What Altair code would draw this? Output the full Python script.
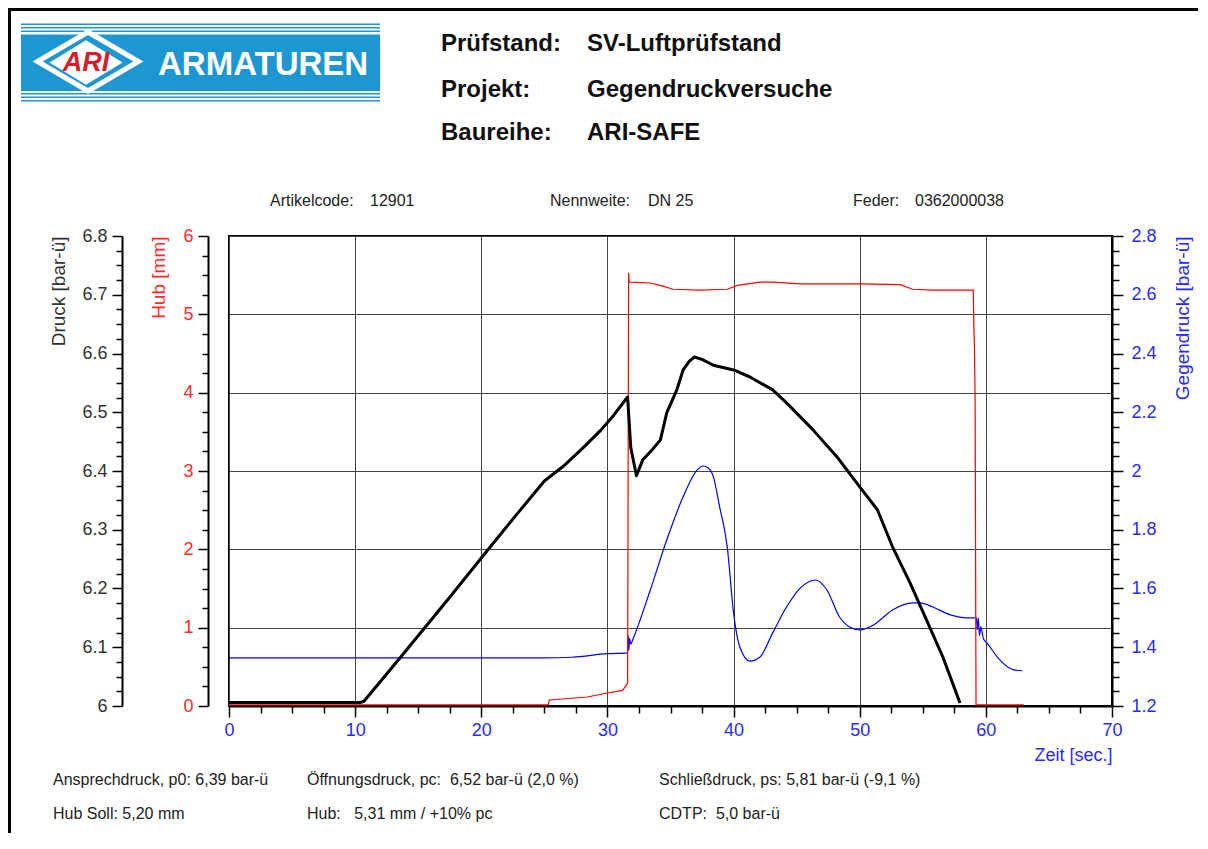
import altair as alt
import pandas as pd

FONT = "Liberation Sans"
RED = "#ff0000"
BLUE = "#0000ff"
RED_TXT = "#ff2a2a"
BLUE_TXT = "#2a2aff"
DARK = "#333333"
NB = "\u00a0"

# ---------------- data ----------------
druck_t = [0, 10.4, 10.7, 13.6, 17.5, 20, 22.5, 25, 26.5, 28, 29.5, 30.5, 31.6, 31.85,
           32.3, 32.8, 33.5, 34.2, 34.7, 35.5, 36.0, 36.5, 36.9, 37.5, 38.4, 40.0, 41.3,
           43.1, 44.2, 46.3, 48.2, 50.0, 51.4, 52.6, 54.0, 55.3, 56.6, 57.95]
druck_v = [6.006, 6.006, 6.008, 6.083, 6.185, 6.252, 6.318, 6.383, 6.408, 6.438, 6.470,
           6.495, 6.526, 6.44, 6.392, 6.419, 6.435, 6.453, 6.499, 6.538, 6.572, 6.587,
           6.594, 6.590, 6.580, 6.572, 6.560, 6.538, 6.516, 6.470, 6.424, 6.373, 6.334,
           6.271, 6.209, 6.146, 6.083, 6.005]

hub_t = [0, 25.3, 25.4, 28.4, 30.0, 31.2, 31.6, 31.68, 31.72, 31.8, 33.4, 34.4, 35.2,
         37.3, 39.5, 40.3, 42.1, 43.1, 45.3, 50.0, 53.2, 54.2, 55.8, 59.0, 59.05, 59.1,
         59.15, 59.22, 63.0]
hub_v = [0.015, 0.015, 0.077, 0.115, 0.166, 0.20, 0.29, 5.53, 5.42, 5.41, 5.40, 5.36,
         5.32, 5.31, 5.32, 5.37, 5.41, 5.41, 5.39, 5.39, 5.38, 5.32, 5.31, 5.31, 4.84,
         4.55, 3.87, 0.015, 0.015]

gd_t = [0, 25, 27.2, 30.0, 31.6, 31.65, 31.7, 31.75, 31.85, 32.0, 33.4, 34.7, 36.0,
        37.1, 37.6, 38.0, 38.4, 38.9, 39.5, 40.0, 40.5, 41.3, 42.1, 43.1, 44.2, 45.3,
        46.5, 47.4, 48.4, 49.2, 50.0, 51.1, 52.6, 54.2, 54.8, 55.8, 57.2, 58.5, 59.25,
        59.32, 59.4, 59.5, 59.6, 59.8, 60.1, 61.1, 62.2, 62.9]
gd_v = [1.364, 1.364, 1.366, 1.378, 1.381, 1.44, 1.39, 1.43, 1.41, 1.425, 1.595, 1.765,
        1.912, 2.003, 2.017, 2.01, 1.98, 1.877, 1.741, 1.517, 1.40, 1.353, 1.367, 1.449,
        1.537, 1.602, 1.629, 1.595, 1.503, 1.469, 1.459, 1.476, 1.527, 1.551, 1.551,
        1.537, 1.510, 1.50, 1.50, 1.46, 1.50, 1.44, 1.47, 1.43, 1.414, 1.357, 1.323, 1.32]

x_ticks = [i * 2.5 for i in range(29)]
druck_ticks = [round(6 + i * 0.025, 3) for i in range(33)]
hub_ticks = [i * 0.25 for i in range(25)]
gd_ticks = [round(1.2 + i * 0.05, 2) for i in range(33)]

header_keys = ["Prüfstand:", "Projekt:", "Baureihe:"]
header_vals = ["SV-Luftprüfstand", "Gegendruckversuche", "ARI-SAFE"]
info_texts = ["Artikelcode:", "12901", "Nennweite:", "DN 25", "Feder:", "0362000038"]
foot_row1 = ["Ansprechdruck, p0: 6,39 bar-ü", "Öffnungsdruck, pc:" + NB + " 6,52 bar-ü (2,0 %)",
             "Schließdruck, ps: 5,81 bar-ü (-9,1 %)"]
foot_row2 = ["Hub Soll: 5,20 mm", "Hub:" + NB + NB + NB + "5,31 mm / +10% pc",
             "CDTP:" + NB + " 5,0 bar-ü"]

# ---------------- layout ----------------
PL, PT = 229, 236          # page position of plot origin
W, H = 883, 470
PAD = {"left": PL - 8, "top": PT - 8, "right": 86, "bottom": 127}


def px(x):
    return x - PL


def py(y):
    return y - PT


ONE = alt.Data(values=[{"k": 1}])


def txt(s, x, y, size=16, weight="normal", color="#222222", align="left", style="normal"):
    return alt.Chart(ONE).mark_text(
        text=s, align=align, baseline="middle", fontSize=size, fontWeight=weight,
        color=color, font=FONT, fontStyle=style
    ).encode(x=alt.value(px(x)), y=alt.value(py(y)))


def rect(x1, x2, y1, y2, color):
    return alt.Chart(ONE).mark_rect(color=color, opacity=1).encode(
        x=alt.value(px(x1)), x2=alt.value(px(x2)), y=alt.value(py(y1)), y2=alt.value(py(y2)))


LAB = 18
TIT = 19

# ---------------- axes ----------------
x_major = "datum.value % 10 == 0"
x_axis = alt.Axis(
    values=x_ticks, title="Zeit [sec.]", titleColor=BLUE_TXT, titleFont=FONT, titleFontSize=18,
    titleFontWeight="normal", titleX=W, titleY=49, titleAlign="right", titleBaseline="middle",
    titleAngle=0,
    labelExpr=f"{x_major} ? format(datum.value, 'd') : ''", labelColor=BLUE_TXT,
    labelFont=FONT, labelFontSize=LAB, labelPadding=4, labelOverlap=False, labelFlush=False,
    tickSize={"condition": {"test": x_major, "value": 11}, "value": 7},
    tickColor="black", tickWidth=1.5, domainColor="black", domainWidth=2,
    grid=True, gridColor="#444444", gridWidth=1,
    gridOpacity={"condition": {"test": x_major, "value": 1}, "value": 0},
)

d_major = "abs(datum.value*10 - round(datum.value*10)) < 0.001"
druck_axis = alt.Axis(
    orient="left", offset=107, values=druck_ticks, title="Druck [bar-ü]", titleColor=DARK,
    titleFont=FONT, titleFontSize=TIT, titleFontWeight="normal", titleAngle=270,
    titleAlign="right", titleBaseline="middle", titleX=-64, titleY=0,
    labelExpr=f"{d_major} ? format(datum.value, '.1~f') : ''", labelColor=DARK,
    labelFont=FONT, labelFontSize=LAB, labelPadding=5, labelOverlap=False, labelFlush=False,
    tickSize={"condition": {"test": d_major, "value": 10}, "value": 6},
    tickColor="black", tickWidth=1.5, domainColor="black", domainWidth=2, grid=False,
)

h_major = "abs(datum.value - round(datum.value)) < 0.001"
hub_axis = alt.Axis(
    orient="left", offset=21, values=hub_ticks, title="Hub [mm]", titleColor=RED_TXT,
    titleFont=FONT, titleFontSize=TIT, titleFontWeight="normal", titleAngle=270,
    titleAlign="right", titleBaseline="middle", titleX=-50, titleY=0,
    labelExpr=f"{h_major} ? format(datum.value, 'd') : ''", labelColor=RED_TXT,
    labelFont=FONT, labelFontSize=LAB, labelPadding=5, labelOverlap=False, labelFlush=False,
    tickSize={"condition": {"test": h_major, "value": 10}, "value": 6},
    tickColor="black", tickWidth=1.5, domainColor="black", domainWidth=2,
    grid=True, gridColor="#444444", gridWidth=1,
    gridOpacity={"condition": {"test": h_major, "value": 1}, "value": 0},
)

g_major = "abs(datum.value*5 - round(datum.value*5)) < 0.001"
gd_axis = alt.Axis(
    orient="right", offset=0, values=gd_ticks, title="Gegendruck [bar-ü]", titleColor=BLUE_TXT,
    titleFont=FONT, titleFontSize=TIT, titleFontWeight="normal", titleAngle=270,
    titleAlign="right", titleBaseline="middle", titleX=70, titleY=0,
    labelExpr=f"{g_major} ? format(datum.value, '.1~f') : ''", labelColor=BLUE_TXT,
    labelFont=FONT, labelFontSize=LAB, labelPadding=8, labelOverlap=False, labelFlush=False,
    tickSize={"condition": {"test": g_major, "value": 11}, "value": 7},
    tickColor="black", tickWidth=1.5, domainColor="black", domainWidth=2, grid=False,
)

xs = alt.Scale(domain=[0, 70], nice=False, zero=False)
X = alt.X("t:Q", scale=xs, axis=x_axis)

gd_line = alt.Chart(pd.DataFrame({"t": gd_t, "v": gd_v})).mark_line(
    color=BLUE, strokeWidth=1.2, interpolate="monotone").encode(
    x=X, y=alt.Y("v:Q", scale=alt.Scale(domain=[1.2, 2.8], nice=False, zero=False), axis=gd_axis))

hub_line = alt.Chart(pd.DataFrame({"t": hub_t, "v": hub_v})).mark_line(
    color=RED, strokeWidth=1.2).encode(
    x=X, y=alt.Y("v:Q", scale=alt.Scale(domain=[0, 6], nice=False, zero=False), axis=hub_axis))

druck_line = alt.Chart(pd.DataFrame({"t": druck_t, "v": druck_v})).mark_line(
    color="black", strokeWidth=3, strokeJoin="round").encode(
    x=X, y=alt.Y("v:Q", scale=alt.Scale(domain=[6, 6.8], nice=False, zero=False), axis=druck_axis))

# ---------------- decorations ----------------
LOGO = "#1e96d2"
logo = [
    rect(21, 380, 23.5, 25, LOGO), rect(21, 380, 27, 28.5, LOGO), rect(21, 380, 30.5, 32, LOGO),
    rect(21, 380, 34.5, 91, LOGO),
    rect(21, 380, 93, 94.5, LOGO), rect(21, 380, 96.5, 98, LOGO), rect(21, 380, 100, 101.5, LOGO),
    alt.Chart(ONE).mark_point(shape="M-1.71,0L0,-1L1.71,0L0,1Z", size=3481, filled=False,
                              stroke="white", strokeWidth=5, opacity=1).encode(
        x=alt.value(px(88)), y=alt.value(py(61.5))),
    alt.Chart(ONE).mark_point(shape="M-1.65,0L0,-1L1.65,0L0,1Z", size=1764, filled=True,
                              fill="white", stroke="white", opacity=1).encode(
        x=alt.value(px(86)), y=alt.value(py(62.5))),
    txt("ARI", 86, 63, size=27, weight="bold", color="#d4202a", align="center", style="italic"),
    txt("ARMATUREN", 158, 65, size=33, weight="bold", color="white"),
]

frame = [rect(8, 11, 8, 833, "black"), rect(8, 1198, 8, 11, "black")]

texts = []
for i, (k, v) in enumerate(zip(header_keys, header_vals)):
    yy = [44, 90, 133][i]
    texts.append(txt(k, 441, yy, size=24, weight="bold", color="#111111"))
    texts.append(txt(v, 587, yy, size=24, weight="bold", color="#111111"))

for s, xx in zip(info_texts, [270, 370, 550, 648, 853, 915]):
    texts.append(txt(s, xx, 201, size=16))

for s, xx in zip(foot_row1, [53, 307, 659]):
    texts.append(txt(s, xx, 780, size=16))
for s, xx in zip(foot_row2, [53, 307, 659]):
    texts.append(txt(s, xx, 814, size=16))

chart = alt.layer(
    gd_line, hub_line, druck_line, *logo, *frame, *texts
).resolve_scale(
    y="independent"
).properties(
    width=W, height=H,
    autosize=alt.AutoSizeParams(type="none"),
    padding=PAD,
    background="white",
).configure(
    font=FONT
).configure_view(
    stroke="black", strokeWidth=2
)

chart.save("out.html", embed_options={"renderer": "svg", "actions": False})
